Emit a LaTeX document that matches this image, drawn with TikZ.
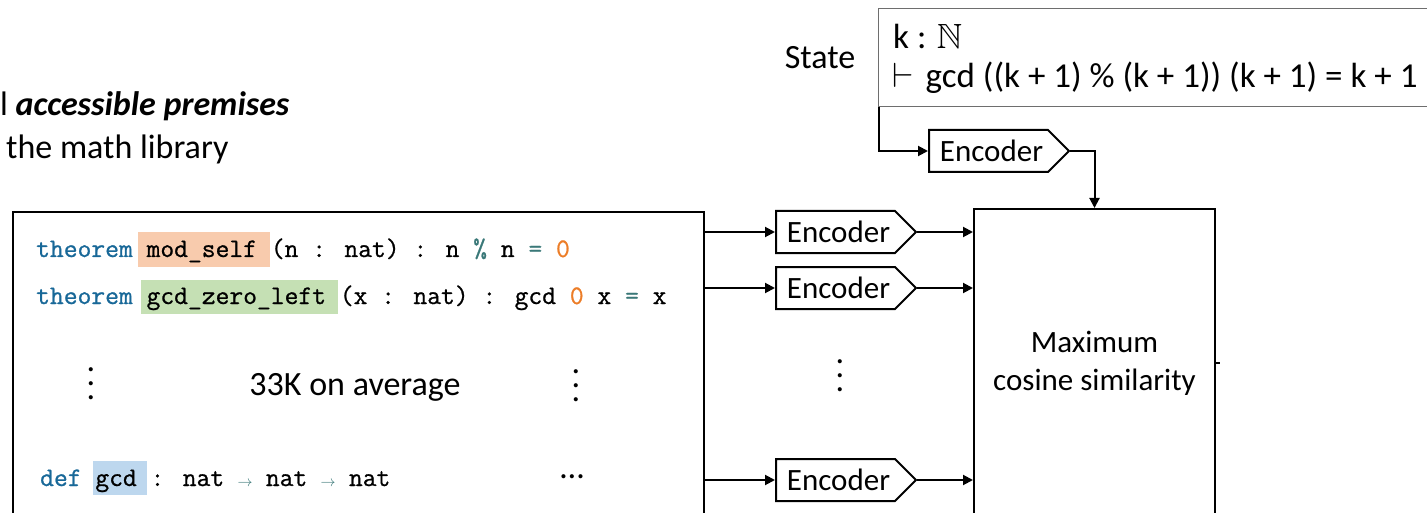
\documentclass[tikz,border=0pt]{standalone}
\usepackage{fix-cm}
\usepackage{amssymb}
\DeclareFontFamily{U}{msb}{}
\DeclareFontShape{U}{msb}{m}{n}{<-> msbm10}{}
\usepackage{fontspec}
\setmainfont{Carlito}
\newfontfamily\codefont{Latin Modern Mono}[FakeBold=0.8]
\usetikzlibrary{arrows.meta,shapes.symbols}
\definecolor{kw}{RGB}{24,104,152}
\definecolor{op}{RGB}{58,120,120}
\definecolor{num}{RGB}{236,125,40}
\definecolor{hlo}{RGB}{248,203,173}
\definecolor{hlg}{RGB}{197,224,180}
\definecolor{hlb}{RGB}{189,215,238}
\definecolor{stategray}{RGB}{110,110,110}
\newcommand{\tarr}{\makebox[14.07pt]{\textcolor{op}{\fontsize{15}{15}\selectfont$\rightarrow$}}}
\newcommand{\bigvdots}{\vbox{\baselineskip=14pt\lineskiplimit=0pt\hbox{.}\hbox{.}\hbox{.}}}
\begin{document}
\begin{tikzpicture}[x=1pt,y=-1pt,
  lbl/.style={font=\fontsize{34}{40}\selectfont, inner sep=0pt},
  code/.style={font=\codefont\fontsize{26.8}{30}\selectfont, inner sep=0pt, anchor=base west},
  box/.style={draw, line width=2pt, inner sep=0pt},
  enc/.style={draw, line width=2pt, shape=signal, signal to=east, signal pointer angle=90,
    minimum width=140, minimum height=42, inner sep=0pt, anchor=west,
    font=\fontsize{31}{36}\selectfont},
  arr/.style={line width=2pt, -{Triangle[length=10pt,width=10pt]}}]
\useasboundingbox (0,0) rectangle (1427,513);
\clip (0,0) rectangle (1427,513);
% top-left text
\node[lbl, anchor=base west] (title1) at (0,116) {l \textbf{\textit{accessible premises}}};
\node[lbl, anchor=base west] (title2) at (6,159) {the math library};
% state
\node[lbl, anchor=base] (statelbl) at (820,69) {State};
\node[draw=stategray, line width=1.3pt, minimum width=580, minimum height=98, anchor=north west, inner sep=0pt] (state) at (878,8) {};
\node[lbl, font=\fontsize{35}{40}\selectfont, anchor=base west] (hyp) at (893,49) {k : $\mathbb{N}$};
\node[lbl, font=\fontsize{35}{40}\selectfont, anchor=base west] (goal) at (892,88) {$\vdash$\hspace{12pt}gcd ((k + 1) \% (k + 1)) (k + 1) = k + 1};
% premises box
\node[box, minimum width=691, minimum height=309, anchor=north west] (prem) at (12,211) {};
\fill[hlo] (138,232) rectangle (270,267);
\fill[hlg] (141,280) rectangle (338,314);
\fill[hlb] (93,461) rectangle (147,495);
\node[code] (p1) at (36,257) {\textcolor{kw}{theorem} mod\_self (n : nat) : n \textcolor{op}{\%} n \textcolor{op}{=} \textcolor{num}{0}};
\node[code] (p2) at (36,304) {\textcolor{kw}{theorem} gcd\_zero\_left (x : nat) : gcd \textcolor{num}{0} x \textcolor{op}{=} x};
\node[code] (p3) at (40,486) {\textcolor{kw}{def} gcd : nat \tarr{} nat \tarr{} nat};
\node[lbl] (dl) at (91,384) {\bigvdots};
\node[lbl] (avg) at (355,387) {33K on average};
\node[lbl] (dr) at (576,386) {\bigvdots};
\node[lbl, anchor=base] (dots) at (572,478) {\dots};
% max box
\node[box, minimum width=241, minimum height=308, anchor=north west, align=center,
  font=\fontsize{31}{38}\selectfont] (max) at (973,208) {Maximum\\cosine similarity};
% encoders
\node[enc] (enc0) at (928,151) {\hspace{6pt}Encoder};
\node[enc] (enc1) at (775,232) {\hspace{6pt}Encoder};
\node[enc] (enc2) at (775,288) {\hspace{6pt}Encoder};
\node[enc] (enc3) at (775,480) {\hspace{6pt}Encoder};
\node[lbl] (dm) at (840,376) {\bigvdots};
% connectors
\draw[arr] ([xshift=1pt]state.south west) |- (enc0.west);
\draw[arr] (enc0.east) -| (max.north);
\foreach \e in {enc1,enc2,enc3}{
  \draw[arr] (prem.east |- \e.west) -- (\e.west);
  \draw[arr] (\e.east) -- (max.west |- \e.east);
}
\draw[line width=1.5pt] (max.east) -- ++(4,0);
\end{tikzpicture}
\end{document}
